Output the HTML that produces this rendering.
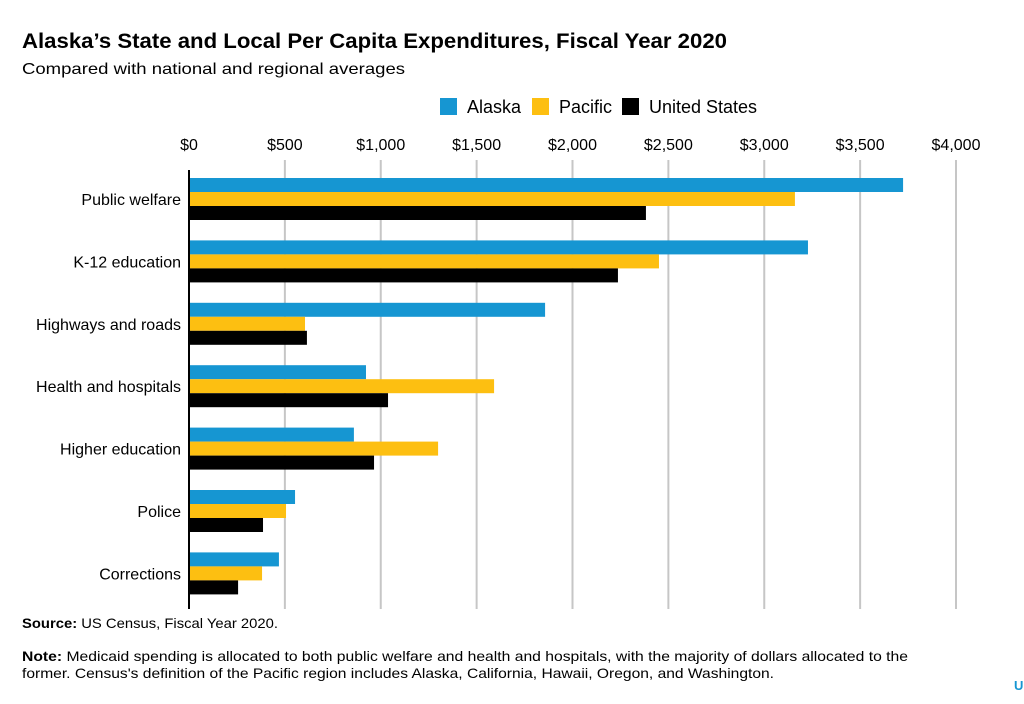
<!DOCTYPE html>
<html><head><meta charset="utf-8"><style>
html,body{margin:0;padding:0;background:#fff;}
svg{display:block;font-family:"Liberation Sans",sans-serif;}
</style></head><body>
<svg id="chart" width="1024" height="704" viewBox="0 0 1024 704" xmlns="http://www.w3.org/2000/svg">
<text x="22" y="48" font-size="21" font-weight="bold" fill="#000" textLength="705" lengthAdjust="spacingAndGlyphs">Alaska’s State and Local Per Capita Expenditures, Fiscal Year 2020</text>
<text x="22" y="74" font-size="16" fill="#000" textLength="383" lengthAdjust="spacingAndGlyphs">Compared with national and regional averages</text>
<g id="legend"></g>
<g id="grid"></g>
<g id="bars"></g>
<g id="ylabels"></g>
<line x1="189" y1="170" x2="189" y2="609" stroke="#000" stroke-width="2"/>
<text x="22" y="628" font-size="14" fill="#000" textLength="256" lengthAdjust="spacingAndGlyphs"><tspan font-weight="bold">Source:</tspan> US Census, Fiscal Year 2020.</text>
<text x="22" y="661" font-size="14" fill="#000" textLength="886" lengthAdjust="spacingAndGlyphs"><tspan font-weight="bold">Note:</tspan> Medicaid spending is allocated to both public welfare and health and hospitals, with the majority of dollars allocated to the</text>
<text x="22" y="678" font-size="14" fill="#000" textLength="752" lengthAdjust="spacingAndGlyphs">former. Census's definition of the Pacific region includes Alaska, California, Hawaii, Oregon, and Washington.</text>
<text x="1014" y="690" font-size="13" font-weight="bold" fill="#1696d2">U</text>
</svg>
<script>
const categories = ["Public welfare","K-12 education","Highways and roads","Health and hospitals","Higher education","Police","Corrections"];
const alaska = [3724,3228,1857,923,860,553,469];
const pacific = [3160,2451,605,1591,1299,506,381];
const unitedStates = [2383,2237,615,1038,965,386,256];
const ticks = [0,500,1000,1500,2000,2500,3000,3500,4000];
const tickLabels = ["$0","$500","$1,000","$1,500","$2,000","$2,500","$3,000","$3,500","$4,000"];
const seriesNames = ["Alaska","Pacific","United States"];
const colors = ["#1696d2","#fdbf11","#000000"];
const NS="http://www.w3.org/2000/svg";
const x0=189, x1=956, xmax=4000;
const xs=v=>x0+(x1-x0)*v/xmax;
const rowTop=178, rowStep=62.4, barH=14;
function mk(tag,attrs,parent){const e=document.createElementNS(NS,tag);for(const k in attrs)e.setAttribute(k,attrs[k]);parent.appendChild(e);return e;}
const grid=document.getElementById('grid');
ticks.forEach((t,i)=>{
  if(i>0){const l=mk('line',{x1:xs(t),x2:xs(t),y1:160,y2:609,stroke:'#c6c6c6','stroke-width':2},grid);
  
  }
  const tx=mk('text',{x:xs(t),y:150,'font-size':16,'text-anchor':'middle',fill:'#000'},grid);
  tx.textContent=tickLabels[i];
  
  
});
const bars=document.getElementById('bars'), yl=document.getElementById('ylabels');
const series=[alaska,pacific,unitedStates];
categories.forEach((c,i)=>{
  const top=rowTop+i*rowStep;
  series.forEach((s,j)=>{
    const r=mk('rect',{x:x0,y:top+j*barH,width:xs(s[i])-x0,height:barH,fill:colors[j]},bars);
    
    
  });
  const t=mk('text',{x:181,y:top+barH*1.5+6,'font-size':16,'text-anchor':'end',fill:'#000'},yl);
  t.textContent=c;
  
  
});
const lg=document.getElementById('legend');
const lx=[440,532,622];
seriesNames.forEach((n,j)=>{
  const r=mk('rect',{x:lx[j],y:98,width:17,height:17,fill:colors[j]},lg);
  
  
  const t=mk('text',{x:lx[j]+27,y:113,'font-size':18,fill:'#000'},lg);
  t.textContent=n;
  
  
});
</script>
</body></html>
